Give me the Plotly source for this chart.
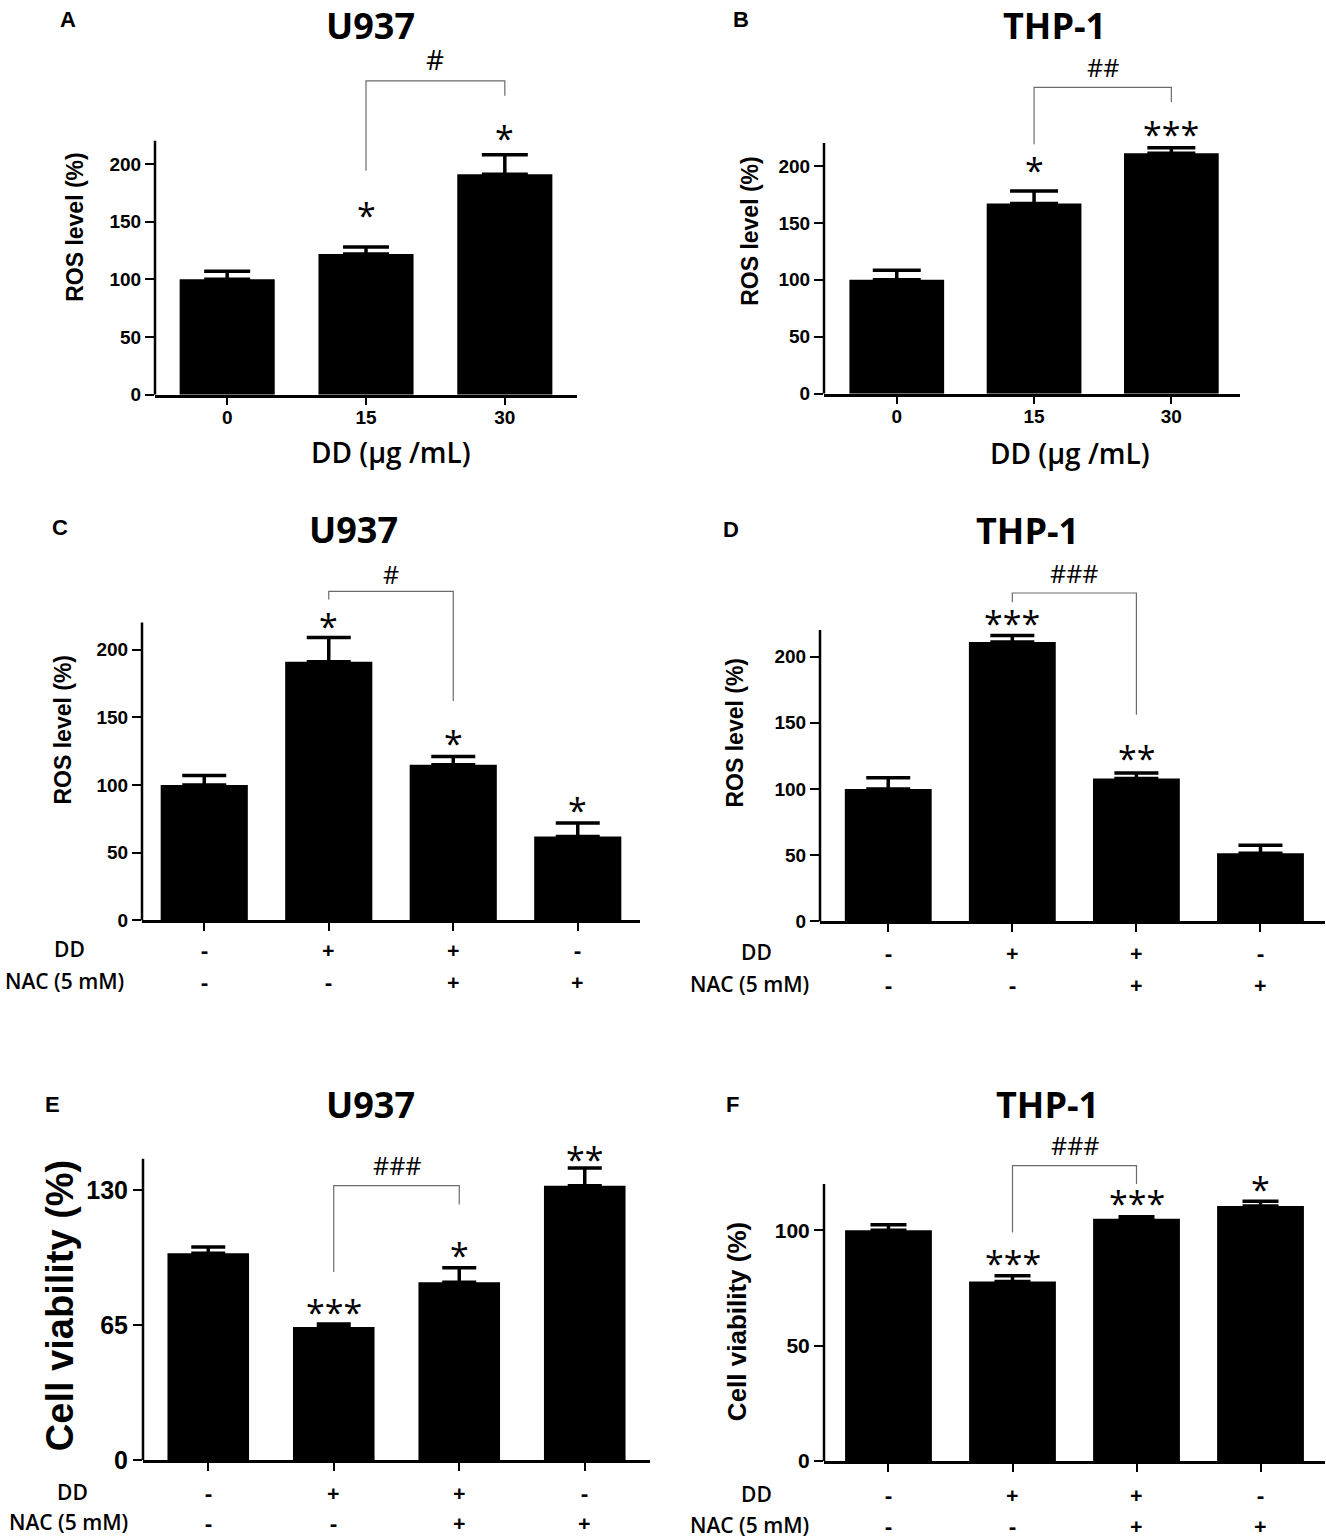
import plotly.graph_objects as go

W, H = 1326, 1539          # reference picture size
FIG_H = 1552               # page height that the screenshot is scaled from

# ---------------- data ----------------
DOSE_LABELS = ["0", "15", "30"]

A_ROS = [100, 122, 191]
A_SEM = [7, 6, 17]
A_SIG = ["", "*", "*"]

B_ROS = [100, 167, 211]
B_SEM = [8.5, 11, 5]
B_SIG = ["", "*", "***"]

DD_SIGNS = ["-", "+", "+", "-"]
NAC_SIGNS = ["-", "-", "+", "+"]

C_ROS = [100, 191, 115, 62]
C_SEM = [7, 18, 6, 10]
C_SIG = ["", "*", "*", "*"]

D_ROS = [100, 211, 108, 51.5]
D_SEM = [8.5, 5, 4, 6]
D_SIG = ["", "***", "**", ""]

E_VIAB = [99.5, 64, 85.5, 132]
E_SEM = [3, 1.5, 7, 8.5]
E_SIG = ["", "***", "*", "**"]

F_VIAB = [100, 77.8, 105, 110.5]
F_SEM = [2.4, 2.5, 0.8, 2]
F_SIG = ["", "***", "***", "*"]

# ---------------- panel geometry (reference pixels) ----------------
PANELS = [
    dict(letter="A", title="U937", vals=A_ROS, sem=A_SEM, sig=A_SIG,
         x0=155, x1=577, xr=(-0.52, 2.52), zero=395, unit=1.155, ytop=300, axtop=220,
         yticks=[0, 50, 100, 150, 200], ytitle="ROS level (%)", ytitle_xy=(75, 227), ytitle_size=23,
         tick_size=19, width=0.685, cap=23, hash_size=28,
         star_y=[None, 160, 227], bracket=(1, 2, 194, 272, 259, "#", 291),
         letter_xy=(68, 20), title_xy=(370, 26), xlabels=DOSE_LABELS, xtitle_xy=(391, 452)),
    dict(letter="B", title="THP-1", vals=B_ROS, sem=B_SEM, sig=B_SIG,
         x0=824, x1=1240, xr=(-0.53, 2.5), zero=394, unit=1.14, ytop=300, axtop=220,
         yticks=[0, 50, 100, 150, 200], ytitle="ROS level (%)", ytitle_xy=(750, 231), ytitle_size=23,
         tick_size=19, width=0.69, cap=24, hash_size=25,
         star_y=[None, 201, 232], bracket=(1, 2, 219, 269, 256, "##", 287),
         letter_xy=(741, 20), title_xy=(1054, 26), xlabels=DOSE_LABELS, xtitle_xy=(1070, 453)),
    dict(letter="C", title="U937", vals=C_ROS, sem=C_SEM, sig=C_SIG,
         x0=142, x1=640, xr=(-0.5, 3.5), zero=921, unit=1.355, ytop=268, axtop=220,
         yticks=[0, 50, 100, 150, 200], ytitle="ROS level (%)", ytitle_xy=(63, 730), ytitle_size=23,
         tick_size=19, width=0.70, cap=22, hash_size=25,
         star_y=[None, 221, 135, 85], bracket=(1, 2, 237, 243, 162, "#", 256),
         letter_xy=(60, 528), title_xy=(353, 530), rows_y=(950, 982), rows_x=(69, 64)),
    dict(letter="D", title="THP-1", vals=D_ROS, sem=D_SEM, sig=D_SIG,
         x0=820, x1=1325, xr=(-0.55, 3.52), zero=922, unit=1.325, ytop=275, axtop=220,
         yticks=[0, 50, 100, 150, 200], ytitle="ROS level (%)", ytitle_xy=(735, 733), ytitle_size=23,
         tick_size=19, width=0.70, cap=22, hash_size=25,
         star_y=[None, 229, 127, None], bracket=(1, 2, 241, 248, 156, "###", 263),
         letter_xy=(731, 530), title_xy=(1027, 531), rows_y=(953, 985), rows_x=(756, 749)),
    dict(letter="E", title="U937", vals=E_VIAB, sem=E_SEM, sig=E_SIG,
         x0=143, x1=650, xr=(-0.52, 3.52), zero=1461, unit=2.08, ytop=152, axtop=145,
         yticks=[0, 65, 130], ytitle="Cell viability (%)", ytitle_xy=(60, 1307), ytitle_size=38,
         tick_size=25, width=0.65, cap=17, hash_size=25,
         star_y=[None, 73.6, 101, 147], bracket=(1, 2, 90.5, 132, 123, "###", 142),
         letter_xy=(53, 1105), title_xy=(370, 1105), rows_y=(1493, 1523), rows_x=(72, 68)),
    dict(letter="F", title="THP-1", vals=F_VIAB, sem=F_SEM, sig=F_SIG,
         x0=824, x1=1325, xr=(-0.52, 3.52), zero=1462, unit=2.31, ytop=142, axtop=120,
         yticks=[0, 50, 100], ytitle="Cell viability (%)", ytitle_xy=(737, 1323), ytitle_size=26,
         tick_size=21, width=0.70, cap=18, hash_size=25,
         star_y=[None, 88, 114, 120], bracket=(1, 2, 99, 128, 120, "###", 137),
         letter_xy=(732, 1105), title_xy=(1047, 1105), rows_y=(1495, 1526), rows_x=(756, 749)),
]

SANS = "Liberation Sans, Arial, sans-serif"
OPEN = "Open Sans, Noto Sans, sans-serif"
GRAY = "#6b6b6b"


def px(x, y):
    # reference pixel -> paper fraction
    return x / W, 1 - y / H


def paper_note(x, y, text, font, **kw):
    fx, fy = px(x, y)
    return dict(x=fx, y=fy, xref="paper", yref="paper", text=text, showarrow=False,
                xanchor="center", yanchor="middle", font=font, **kw)


fig = go.Figure()
annotations = []
shapes = []
layout_axes = {}

for k, p in enumerate(PANELS, start=1):
    sfx = "" if k == 1 else str(k)
    xa, ya = f"x{sfx}", f"y{sfx}"
    n = len(p["vals"])
    xs = list(range(n))

    fig.add_trace(go.Bar(
        x=xs, y=p["vals"], width=p["width"], xaxis=xa, yaxis=ya,
        marker=dict(color="black", line=dict(width=0)),
        error_y=dict(type="data", array=p["sem"], arrayminus=[0] * n, symmetric=False,
                     color="black", thickness=3.5, width=p["cap"]),
        showlegend=False, hoverinfo="skip",
    ))

    # comparison bracket
    li, ri, lf, top, rf, lab, laby = p["bracket"]
    fig.add_trace(go.Scatter(
        x=[li, li, ri, ri], y=[lf, top, top, rf], mode="lines",
        line=dict(color=GRAY, width=1.2), xaxis=xa, yaxis=ya,
        showlegend=False, hoverinfo="skip",
    ))
    annotations.append(dict(x=(li + ri) / 2, y=laby, xref=xa, yref=ya, text=lab,
                            showarrow=False, xanchor="center", yanchor="middle",
                            font=dict(family=OPEN, size=p["hash_size"], color="black")))

    # significance stars
    for i, s in enumerate(p["sig"]):
        if s and p["star_y"][i] is not None:
            annotations.append(dict(x=i, y=p["star_y"][i], xref=xa, yref=ya, text=s,
                                    showarrow=False, xanchor="center", yanchor="middle",
                                    yshift=-5,
                                    font=dict(family=OPEN, size=34, color="black")))

    # y axis line (stops at axtop)
    shapes.append(dict(type="line", xref=f"{xa} domain", yref=ya, x0=0, x1=0,
                       y0=0, y1=p["axtop"], line=dict(color="black", width=2.5)))

    dx0, _ = px(p["x0"], 0)
    dx1, _ = px(p["x1"], 0)
    _, dy0 = px(0, p["zero"])
    _, dy1 = px(0, p["zero"] - p["ytop"] * p["unit"])

    xlabels = p.get("xlabels", [""] * n)
    layout_axes[f"xaxis{sfx}"] = dict(
        domain=[dx0, dx1], range=list(p["xr"]), anchor=ya,
        showline=True, linecolor="black", linewidth=2.5,
        ticks="outside", ticklen=8, tickwidth=2, tickcolor="black",
        tickvals=xs, ticktext=xlabels, ticklabelstandoff=-4,
        tickfont=dict(family=SANS, size=p["tick_size"], color="black", weight="bold"),
        showgrid=False, zeroline=False, fixedrange=True,
    )
    layout_axes[f"yaxis{sfx}"] = dict(
        domain=[dy0, dy1], range=[0, p["ytop"]], anchor=xa,
        showline=False, ticks="outside", ticklen=9, tickwidth=2, tickcolor="black",
        tickvals=p["yticks"], ticktext=[str(v) for v in p["yticks"]],
        tickfont=dict(family=SANS, size=p["tick_size"], color="black", weight="bold"),
        showgrid=False, zeroline=False, fixedrange=True,
    )

    # panel letter, title, y title
    annotations.append(paper_note(*p["letter_xy"], f"<b>{p['letter']}</b>",
                                  dict(family=SANS, size=22, color="black")))
    annotations.append(paper_note(*p["title_xy"], f"<b>{p['title']}</b>",
                                  dict(family=OPEN, size=36, color="black")))
    annotations.append(paper_note(*p["ytitle_xy"], f"<b>{p['ytitle']}</b>",
                                  dict(family=SANS, size=p["ytitle_size"], color="black"),
                                  textangle=-90))

    if "xtitle_xy" in p:
        annotations.append(paper_note(*p["xtitle_xy"], "DD (μg /mL)",
                                      dict(family=OPEN, size=28, color="black", weight=600)))
    else:
        r1, r2 = p["rows_y"]
        c1, c2 = p["rows_x"]
        for (lbl, cx, ry, signs) in (("DD", c1, r1, DD_SIGNS), ("NAC (5 mM)", c2, r2, NAC_SIGNS)):
            annotations.append(paper_note(cx, ry, lbl,
                                          dict(family=OPEN, size=21, color="black", weight=600)))
            _, ay_ = px(0, ry)
            for i, s in enumerate(signs):
                annotations.append(dict(x=i, y=ay_, xref=xa, yref="paper", text=f"<b>{s}</b>",
                                        showarrow=False, xanchor="center", yanchor="middle",
                                        font=dict(family=OPEN, size=22, color="black")))

fig.update_layout(
    width=W, height=FIG_H, autosize=False,
    margin=dict(l=0, r=0, t=0, b=0),
    paper_bgcolor="white", plot_bgcolor="white",
    annotations=annotations, shapes=shapes,
    **layout_axes,
)

# default page body margin would push the fixed-size figure off by 8px
PAGE_FIX = ("document.body.style.margin = '0';"
            "document.body.style.overflow = 'hidden';"
            "document.documentElement.style.overflow = 'hidden';")
fig.write_html("out.html", config={"displayModeBar": False}, post_script=PAGE_FIX)
